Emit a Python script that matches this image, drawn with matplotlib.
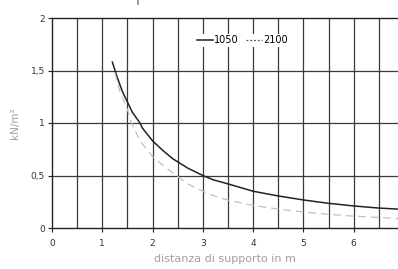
import matplotlib
matplotlib.use("Agg")
import matplotlib.pyplot as plt
from matplotlib.lines import Line2D
import numpy as np

# data
x_1050 = [1.2, 1.3, 1.4, 1.5, 1.6, 1.75, 1.8, 2.0, 2.2, 2.4, 2.5, 2.7, 3.0, 3.2, 3.5, 4.0, 4.5, 5.0, 5.5, 6.0, 6.5, 6.88]
y_1050 = [1.58, 1.43, 1.30, 1.20, 1.10, 1.0, 0.95, 0.83, 0.74, 0.66, 0.63, 0.57, 0.50, 0.46, 0.42, 0.35, 0.305, 0.267, 0.235, 0.21, 0.19, 0.18]
x_2100 = [1.25, 1.35, 1.5, 1.58, 1.65, 1.75, 2.0, 2.2, 2.5, 2.7, 3.0, 3.2, 3.5, 4.0, 4.5, 5.0, 5.5, 6.0, 6.5, 6.88]
y_2100 = [1.48, 1.30, 1.13, 1.0, 0.93, 0.83, 0.68, 0.60, 0.49, 0.42, 0.35, 0.31, 0.265, 0.215, 0.18, 0.153, 0.13, 0.113, 0.10, 0.09]
series_names = ["1050", "2100"]
x_ticks = [0, 1, 2, 3, 4, 5, 6]
y_ticks = [0, 0.5, 1, 1.5, 2]
y_tick_labels = ["0", "0,5", "1", "1,5", "2"]
x_label = "distanza di supporto in m"
y_label = "kN/m²"

W, H = 398, 269
fig = plt.figure(figsize=(W / 100, H / 100), dpi=100)
ax = fig.add_axes([52 / W, 1 - 228 / H, 1 - 52 / W, 210 / H])

# grid every 0.5
for gx in np.arange(0.5, 7.0, 0.5):
    ax.axvline(gx, color="#3a3a3a", lw=0.9, zorder=1)
for gy in [0.5, 1.0, 1.5]:
    ax.axhline(gy, color="#3a3a3a", lw=0.9, zorder=1)

ax.plot(x_1050, y_1050, color="#222222", lw=1.1, zorder=3, label=series_names[0])
ax.plot(x_2100, y_2100, color="#c0c0c0", lw=0.9, ls=(0, (6, 4)), zorder=3, label=series_names[1])

ax.set_xlim(0, 6.88)
ax.set_ylim(0, 2)
ax.set_xticks(x_ticks)
ax.set_yticks(y_ticks)
ax.set_yticklabels(y_tick_labels)
ax.tick_params(axis="both", labelsize=6.5, length=3, width=0.8, color="#222222", labelcolor="#333333", pad=2)
ax.tick_params(axis="x", pad=5)
for s in ["left", "bottom", "top"]:
    ax.spines[s].set_color("#222222")
    ax.spines[s].set_linewidth(1.0)
ax.spines["right"].set_visible(False)

ax.set_xlabel(x_label, fontsize=8, color="#a0a0a0", labelpad=4)
ax.set_ylabel(y_label, fontsize=7.5, color="#a0a0a0", labelpad=8)

handles = [Line2D([0], [0], color="#222222", lw=1.1),
           Line2D([0], [0], color="#555555", lw=0.9, ls=(0, (1.5, 1.5)))]
leg = ax.legend(handles, series_names, loc="upper left", bbox_to_anchor=((196 - 52) / (W - 52), 0.925),
                ncol=2, frameon=True, fontsize=7, handlelength=1.6, handletextpad=0.1,
                columnspacing=0.8, borderpad=0.15, borderaxespad=0)
leg.get_frame().set_edgecolor("none")
leg.get_frame().set_facecolor("white")
leg.get_frame().set_alpha(1)
leg.set_zorder(5)

# cut-off descender of a title at the top edge
fig.add_artist(Line2D([138 / W, 138 / W], [1.0, 1 - 4 / H], color="#888888", lw=1.2))

fig.savefig("out.png", dpi=100)
